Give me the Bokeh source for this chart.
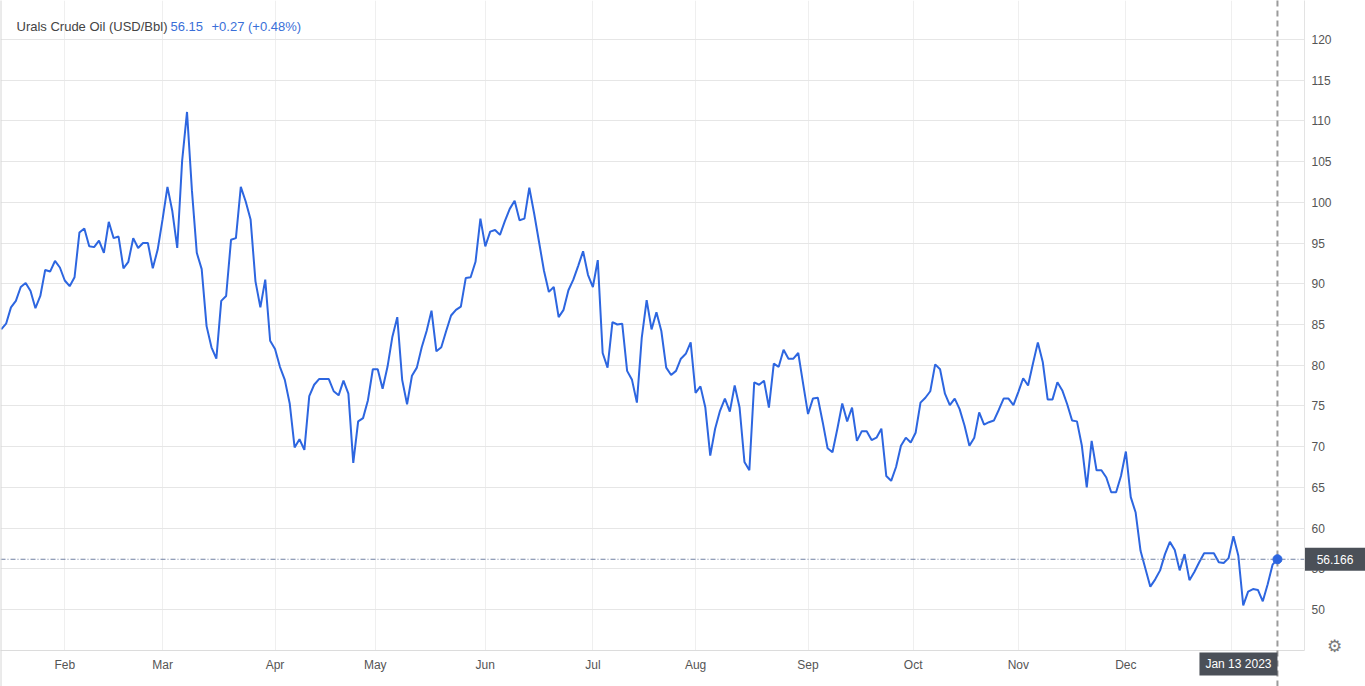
import numpy as np
import pandas as pd
from bokeh.plotting import figure
from bokeh.models import Range1d, FixedTicker, Span, Label, ColumnDataSource
from bokeh.core.properties import value
from bokeh.embed import file_html
from bokeh.resources import INLINE

# ---------------- data ----------------
dates = pd.bdate_range("2022-01-13", "2023-01-13")
prices = [
    84.4, 85.1, 87.1, 87.9, 89.6, 90.1, 89.1, 87.0, 88.5, 91.7,
    91.5, 92.8, 92.0, 90.4, 89.7, 90.8, 96.3, 96.8, 94.6, 94.5,
    95.3, 93.8, 97.6, 95.6, 95.8, 91.9, 92.7, 95.6, 94.4, 95.0,
    95.0, 91.9, 94.2, 97.9, 101.9, 98.9, 94.4, 105.1, 111.1, 101.5,
    93.8, 91.8, 84.8, 82.2, 80.8, 87.9, 88.5, 95.4, 95.6, 101.9,
    100.1, 97.9, 90.3, 87.1, 90.5, 83.0, 82.0, 79.8, 78.2, 75.3,
    69.9, 70.9, 69.6, 76.2, 77.6, 78.3, 78.3, 78.3, 76.8, 76.3,
    78.1, 76.5, 68.0, 73.1, 73.5, 75.7, 79.5, 79.5, 77.1, 79.8,
    83.5, 85.9, 78.2, 75.2, 78.7, 79.7, 82.2, 84.2, 86.7, 81.7,
    82.2, 84.2, 86.1, 86.8, 87.2, 90.7, 90.8, 92.7, 98.0, 94.6,
    96.4, 96.6, 96.0, 97.7, 99.2, 100.2, 97.8, 98.0, 101.8, 98.6,
    95.1, 91.6, 89.0, 89.6, 85.9, 86.8, 89.2, 90.5, 92.2, 94.0,
    91.1, 89.6, 92.9, 81.5, 79.7, 85.3, 85.0, 85.1, 79.3, 78.2,
    75.4, 83.4, 88.0, 84.4, 86.5, 84.2, 79.7, 78.8, 79.3, 80.8,
    81.4, 82.8, 76.6, 77.4, 74.8, 68.9, 72.2, 74.4, 75.9, 74.3,
    77.5, 74.8, 68.1, 67.1, 77.9, 77.6, 78.1, 74.8, 80.2, 79.8,
    81.9, 80.8, 80.8, 81.5, 77.7, 74.0, 75.9, 76.0, 73.0, 69.8,
    69.3, 72.2, 75.3, 73.1, 74.8, 70.7, 71.9, 71.9, 70.8, 71.1,
    72.2, 66.4, 65.8, 67.5, 70.1, 71.1, 70.5, 71.7, 75.4, 76.0,
    76.8, 80.1, 79.5, 76.5, 75.1, 75.9, 74.6, 72.6, 70.1, 71.1,
    74.2, 72.7, 73.0, 73.2, 74.5, 75.9, 75.9, 75.1, 76.7, 78.4,
    77.5, 80.2, 82.8, 80.4, 75.8, 75.8, 77.9, 76.9, 75.2, 73.2,
    73.1, 70.1, 65.0, 70.7, 67.1, 67.1, 66.2, 64.4, 64.4, 66.4,
    69.4, 63.8, 61.9, 57.2, 55.0, 52.8, 53.7, 54.8, 56.8, 58.3,
    57.3, 54.8, 56.8, 53.6, 54.6, 55.8, 56.9, 56.9, 56.9, 55.8,
    55.7, 56.3, 59.0, 56.6, 50.5, 52.2, 52.5, 52.4, 51.0, 53.1,
    55.5, 56.166,
]
title_text = "Urals Crude Oil (USD/Bbl)"
last_text = "56.15"
change_text = "+0.27 (+0.48%)"
crosshair_value = 56.166
crosshair_value_label = "56.166"
crosshair_date_label = "Jan 13 2023"
y_ticks = list(range(50, 121, 5))
month_starts = pd.date_range("2022-02-01", "2023-01-01", freq="MS")
month_labels = ["Feb", "Mar", "Apr", "May", "Jun", "Jul", "Aug", "Sep",
                "Oct", "Nov", "Dec", "Jan"]

assert len(dates) == len(prices)

# ---------------- layout constants ----------------
W, H = 1365, 686
RIGHT, BOTTOM = 61, 36
FW, FH = W - RIGHT, H - BOTTOM
X0, X1 = -0.143, 266.53
Y0, Y1 = 44.96, 124.79
PX_X = FW / (X1 - X0)   # pixels per trading day
PX_Y = FH / (Y1 - Y0)   # pixels per USD


def sx_to_data(px):
    return X0 + px / PX_X


def sy_to_data(py):  # py measured from the canvas top
    return Y1 - py / PX_Y


# ---------------- helpers ----------------
x_idx = np.arange(len(dates))


def month_pos(d):
    i = int(dates.searchsorted(d))
    return float(i) if dates[i] == d else i - 0.5


tick_pos = [month_pos(d) for d in month_starts]
tick_keys = [int(t) if float(t).is_integer() else t for t in tick_pos]
overrides = dict(zip(tick_keys, month_labels))

LINE = "#2d66e0"
FONT = "Liberation Sans"
BOX = "#4b5058"

src = ColumnDataSource(dict(x=x_idx, y=prices))

p = figure(
    width=W, height=H,
    x_range=Range1d(X0, X1),
    y_range=Range1d(Y0, Y1),
    output_backend="svg", toolbar_location=None,
    y_axis_location="right",
    min_border_left=0, min_border_top=0,
    min_border_right=RIGHT, min_border_bottom=BOTTOM,
)
p.outline_line_color = None
p.background_fill_color = "white"
p.border_fill_color = "white"

# grids
p.xgrid.ticker = FixedTicker(ticks=tick_keys)
p.xgrid.grid_line_color = "#efefef"
p.ygrid.ticker = FixedTicker(ticks=y_ticks)
p.ygrid.grid_line_color = "#e6e6e6"

# axes
for ax in (p.xaxis[0], p.yaxis[0]):
    ax.major_tick_line_color = None
    ax.minor_tick_line_color = None
    ax.major_tick_out = 0
    ax.major_tick_in = 0
    ax.minor_tick_out = 0
    ax.minor_tick_in = 0
    ax.major_label_standoff = 7
    ax.major_label_text_font = FONT
    ax.major_label_text_font_size = "12px"
    ax.major_label_text_color = "#555555"

xa = p.xaxis[0]
xa.ticker = FixedTicker(ticks=tick_keys)
xa.major_label_overrides = overrides
xa.axis_line_color = "#dcdcdc"

ya = p.yaxis[0]
ya.ticker = FixedTicker(ticks=y_ticks)
ya.axis_line_color = "#e3e3e3"
ya.major_label_text_align = "left"

# left border of the chart container
p.segment(x0=[sx_to_data(0.5)], y0=[sy_to_data(H)], x1=[sx_to_data(0.5)], y1=[Y1],
          line_color="#d6d6d6", line_width=1, level="overlay")

# price line
p.line("x", "y", source=src, line_color=LINE, line_width=2)

# crosshair
last_x = float(x_idx[-1])
p.add_layout(Span(location=crosshair_value, dimension="width",
                  line_color="#7080a3", line_width=1, line_dash="5 2 1 2"))
p.segment(x0=[last_x], y0=[sy_to_data(H)], x1=[last_x], y1=[Y1],
          line_color="#9b9b9b", line_width=2, line_dash="6 4", level="overlay")
p.scatter([last_x], [prices[-1]], marker="circle", size=9,
          fill_color=LINE, line_color=LINE, level="overlay")

# crosshair value box on the right axis
vx = sx_to_data(FW + RIGHT / 2)
p.rect(x=[vx], y=[crosshair_value], width=RIGHT - 1, height=23,
       width_units="screen", height_units="screen",
       fill_color=BOX, line_color=None, level="overlay")
p.text(x=[vx], y=[crosshair_value], text=[crosshair_value_label],
       text_font=value(FONT), text_font_size="12px", text_color="white",
       text_align="center", text_baseline="middle", level="overlay")

# crosshair date box on the bottom axis
dx = last_x - 39 / PX_X
dy = sy_to_data(FH + 13.5)
p.rect(x=[dx], y=[dy], width=78, height=23,
       width_units="screen", height_units="screen",
       fill_color=BOX, line_color=None, level="overlay")
p.text(x=[dx], y=[dy], text=[crosshair_date_label],
       text_font=value(FONT), text_font_size="12px", text_color="white",
       text_align="center", text_baseline="middle", level="overlay")

# settings gear
p.text(x=[sx_to_data(1334)], y=[sy_to_data(645)], text=["\u2699"],
       text_font=value("DejaVu Sans"), text_font_size="17px", text_color="#7a7a7a",
       text_align="center", text_baseline="middle", level="overlay")

# title
p.add_layout(Label(x=16, y=FH - 26, x_units="screen", y_units="screen",
                   text=title_text, text_font=FONT, text_font_size="13px",
                   text_color="#444444", text_baseline="middle"))
p.add_layout(Label(x=170, y=FH - 26, x_units="screen", y_units="screen",
                   text=last_text, text_font=FONT, text_font_size="13px",
                   text_color="#3a6fd8", text_baseline="middle"))
p.add_layout(Label(x=211, y=FH - 26, x_units="screen", y_units="screen",
                   text=change_text, text_font=FONT, text_font_size="13px",
                   text_color="#3a6fd8", text_baseline="middle"))

open("out.html", "w").write(file_html(p, INLINE))
